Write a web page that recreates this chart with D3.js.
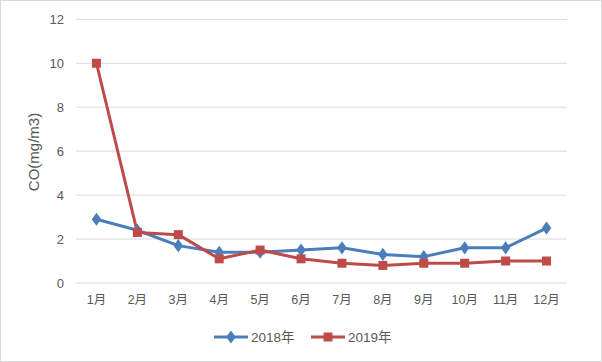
<!DOCTYPE html>
<html><head><meta charset="utf-8">
<script src="https://cdn.jsdelivr.net/npm/d3@7/dist/d3.min.js"></script>
<style>body{margin:0;background:#fff}svg{display:block}</style>
</head><body>
<script>
const months = ["1月","2月","3月","4月","5月","6月","7月","8月","9月","10月","11月","12月"];
const s2018 = [2.9,2.4,1.7,1.4,1.4,1.5,1.6,1.3,1.2,1.6,1.6,2.5];
const s2019 = [10,2.3,2.2,1.1,1.5,1.1,0.9,0.8,0.9,0.9,1.0,1.0];
const seriesNames = ["2018年","2019年"];
const yTicks = [0,2,4,6,8,10,12];

const W=602,H=362;
const font = "'Liberation Sans','Noto Sans CJK SC',sans-serif";
const svg = d3.select("body").append("svg").attr("width",W).attr("height",H);
svg.append("rect").attr("x",0.5).attr("y",0.5).attr("width",W-1).attr("height",H-1)
  .attr("fill","#fff").attr("stroke","#d9d9d9");

const x = d3.scaleBand().domain(months).range([76,567]);
const y = d3.scaleLinear().domain([0,12]).range([283,19.3]);

const g = svg.append("g");
g.selectAll(".grid").data(yTicks).join("line")
  .attr("x1",76).attr("x2",567).attr("y1",d=>y(d)).attr("y2",d=>y(d))
  .attr("stroke","#d9d9d9").attr("stroke-width",1);

const ya = svg.append("g").attr("transform","translate(76,0)")
  .call(d3.axisLeft(y).tickValues(yTicks).tickSize(0).tickPadding(12));
ya.select(".domain").remove();
ya.selectAll("text").attr("fill","#595959").style("font-family",font).style("font-size","13px");

const xa = svg.append("g").attr("transform","translate(0,283)")
  .call(d3.axisBottom(x).tickSize(0).tickPadding(12));
xa.select(".domain").remove();
xa.selectAll("text").attr("fill","#595959").style("font-family",font).style("font-size","12.5px");

svg.append("text").attr("transform","translate(39,152) rotate(-90)")
  .attr("text-anchor","middle").attr("fill","#595959")
  .style("font-family",font).style("font-size","15px").text("CO(mg/m3)");

const cx = d => x(d)+x.bandwidth()/2;
const line = d3.line().x((d,i)=>cx(months[i])).y(d=>y(d));
const colors = ["#4A7EBB","#BE4B48"];

svg.append("path").datum(s2018).attr("d",line).attr("fill","none")
  .attr("stroke",colors[0]).attr("stroke-width",3).attr("stroke-linejoin","round");
svg.append("path").datum(s2019).attr("d",line).attr("fill","none")
  .attr("stroke",colors[1]).attr("stroke-width",3).attr("stroke-linejoin","round");

svg.selectAll(".m18").data(s2018).join("path")
  .attr("d",d3.symbol().type(d3.symbolDiamond).size(50))
  .attr("transform",(d,i)=>`translate(${cx(months[i])},${y(d)}) scale(1.25,1)`)
  .attr("fill",colors[0]);
svg.selectAll(".m19").data(s2019).join("rect")
  .attr("x",(d,i)=>cx(months[i])-4.5).attr("y",d=>y(d)-4.5)
  .attr("width",9).attr("height",9).attr("fill",colors[1]);

const lg = svg.append("g").attr("transform","translate(0,337)");
[[214,colors[0],seriesNames[0],"d"],[311,colors[1],seriesNames[1],"s"]].forEach(([lx,c,t,m])=>{
  lg.append("line").attr("x1",lx).attr("x2",lx+34).attr("y1",0).attr("y2",0)
    .attr("stroke",c).attr("stroke-width",3);
  if(m==="d") lg.append("path").attr("d",d3.symbol().type(d3.symbolDiamond).size(50))
    .attr("transform",`translate(${lx+17},0) scale(1.25,1)`).attr("fill",c);
  else lg.append("rect").attr("x",lx+12.5).attr("y",-4.5).attr("width",9).attr("height",9).attr("fill",c);
  lg.append("text").attr("x",lx+37).attr("y",5).attr("fill","#595959")
    .style("font-family",font).style("font-size","13.5px").text(t);
});
</script>
</body></html>
